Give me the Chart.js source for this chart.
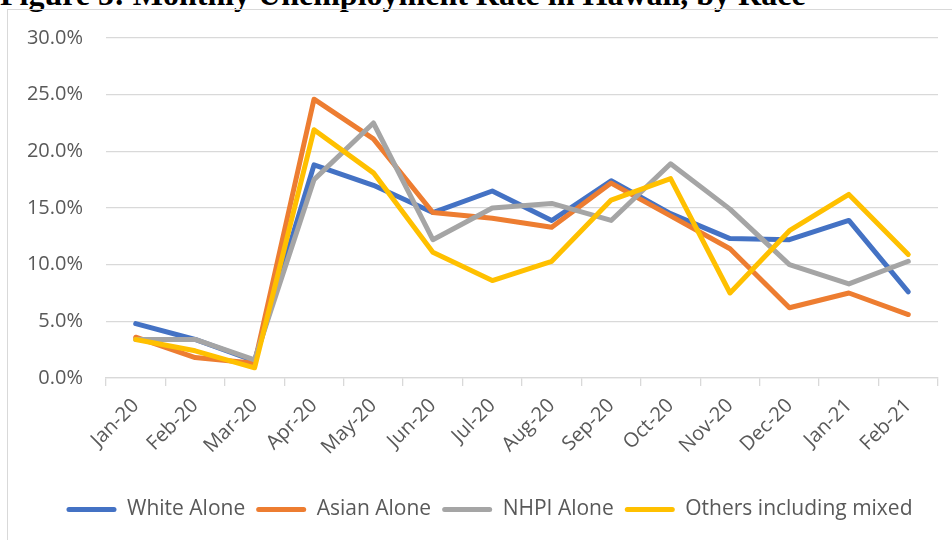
<!DOCTYPE html>
<html>
<head>
<meta charset="utf-8">
<title>Monthly Unemployment Rate in Hawaii, by Race</title>
<script src="https://cdn.jsdelivr.net/npm/chart.js@4.4.1/dist/chart.umd.min.js"></script>
<style>
  html, body { margin: 0; padding: 0; background: #fff; }
  body { width: 952px; height: 540px; overflow: hidden; position: relative; }
  .fig-title {
    position: absolute; left: 0; top: -22px; white-space: nowrap;
    font: bold 32px/32px "Liberation Serif", "Times New Roman", serif; color: #000;
  }
  .frame {
    position: absolute; left: 7px; top: 9px; width: 1000px; height: 600px;
    border-left: 1px solid #d9d9d9; border-top: 1px solid #d9d9d9;
  }
  .chart-box { position: absolute; left: 7px; top: 9px; width: 968px; height: 531px; }
</style>
</head>
<body>
<div class="fig-title">Figure 5: Monthly Unemployment Rate in Hawaii, by Race</div>
<div class="frame"></div>
<div class="chart-box"><canvas id="rateChart"></canvas></div>

<script>
/* ---------- data (percent) ---------- */
const months = ['Jan-20', 'Feb-20', 'Mar-20', 'Apr-20', 'May-20', 'Jun-20', 'Jul-20',
                'Aug-20', 'Sep-20', 'Oct-20', 'Nov-20', 'Dec-20', 'Jan-21', 'Feb-21'];

const whiteAlone  = [4.8, 3.4, 1.5, 18.8, 17.0, 14.6, 16.5, 13.9, 17.4, 14.5, 12.3, 12.2, 13.9, 7.6];
const asianAlone  = [3.6, 1.8, 1.3, 24.6, 21.1, 14.6, 14.1, 13.3, 17.2, 14.3, 11.4, 6.2, 7.5, 5.6];
const nhpiAlone   = [3.4, 3.4, 1.6, 17.5, 22.5, 12.2, 15.0, 15.4, 13.9, 18.9, 14.9, 10.0, 8.3, 10.3];
const othersMixed = [3.4, 2.4, 0.9, 21.9, 18.1, 11.1, 8.6, 10.3, 15.7, 17.6, 7.5, 13.0, 16.2, 10.9];

const seriesNames = ['White Alone', 'Asian Alone', 'NHPI Alone', 'Others including mixed'];
const seriesColors = ['#4472C4', '#ED7D31', '#A5A5A5', '#FFC000'];

const yMin = 0, yMax = 30, yStep = 5;

/* ---------- chart ---------- */
const FONT = "'Open Sans', 'Noto Sans', sans-serif";
const TEXT = '#595959';
const GRID = '#d9d9d9';

function line(i, values) {
  return {
    label: seriesNames[i],
    data: values,
    borderColor: seriesColors[i],
    backgroundColor: seriesColors[i],
    borderWidth: 5,
    borderCapStyle: 'round',
    borderJoinStyle: 'round',
    pointRadius: 0,
    pointHoverRadius: 0,
    tension: 0,
    fill: false,
    order: 4 - i   // later series drawn on top, like Excel
  };
}

// the chart frame runs past the right edge of the picture, so the legend
// sits a little right of the canvas middle
const legendShift = {
  id: 'legendShift',
  afterLayout(chart) {
    chart.legend.left += 17;
    chart.legend.right += 17;
  }
};

new Chart(document.getElementById('rateChart'), {
  type: 'line',
  data: {
    labels: months,
    datasets: [
      line(0, whiteAlone),
      line(1, asianAlone),
      line(2, nhpiAlone),
      line(3, othersMixed)
    ]
  },
  plugins: [legendShift],
  options: {
    responsive: true,
    maintainAspectRatio: false,
    animation: false,
    layout: { padding: { top: 29, left: 0, right: 37, bottom: 10 } },
    plugins: {
      tooltip: { enabled: false },
      legend: {
        position: 'bottom',
        labels: {
          boxWidth: 50,
          boxHeight: 5,
          padding: 11,
          color: TEXT,
          font: { family: FONT, size: 21 },
          useBorderRadius: true,
          borderRadius: 2.5,
          sort: (a, b) => a.datasetIndex - b.datasetIndex,
          generateLabels: chart =>
            Chart.defaults.plugins.legend.labels.generateLabels(chart).map(item => {
              item.fillStyle = item.strokeStyle;
              item.lineWidth = 0;
              return item;
            })
        }
      }
    },
    scales: {
      x: {
        offset: true,
        grid: {
          offset: true,
          drawOnChartArea: false,
          drawTicks: true,
          tickLength: 8,
          color: GRID,
          lineWidth: 1.3
        },
        border: { display: true, color: GRID, width: 1.3 },
        ticks: {
          autoSkip: false,
          minRotation: 45,
          maxRotation: 45,
          padding: 8,
          color: TEXT,
          font: { family: FONT, size: 20 }
        },
        afterFit: scale => { scale.height = 110; }
      },
      y: {
        min: yMin,
        max: yMax,
        grid: { color: GRID, lineWidth: 1.3, drawTicks: false },
        border: { display: false },
        ticks: {
          stepSize: yStep,
          padding: 23,
          color: TEXT,
          font: { family: FONT, size: 20 },
          callback: v => v.toFixed(1) + '%'
        },
        afterFit: scale => {
          scale.width = 99;
          // tick padding would otherwise push the plot top down
          scale.paddingTop = 0;
          scale.paddingBottom = 0;
        }
      }
    }
  }
});
</script>
</body>
</html>
